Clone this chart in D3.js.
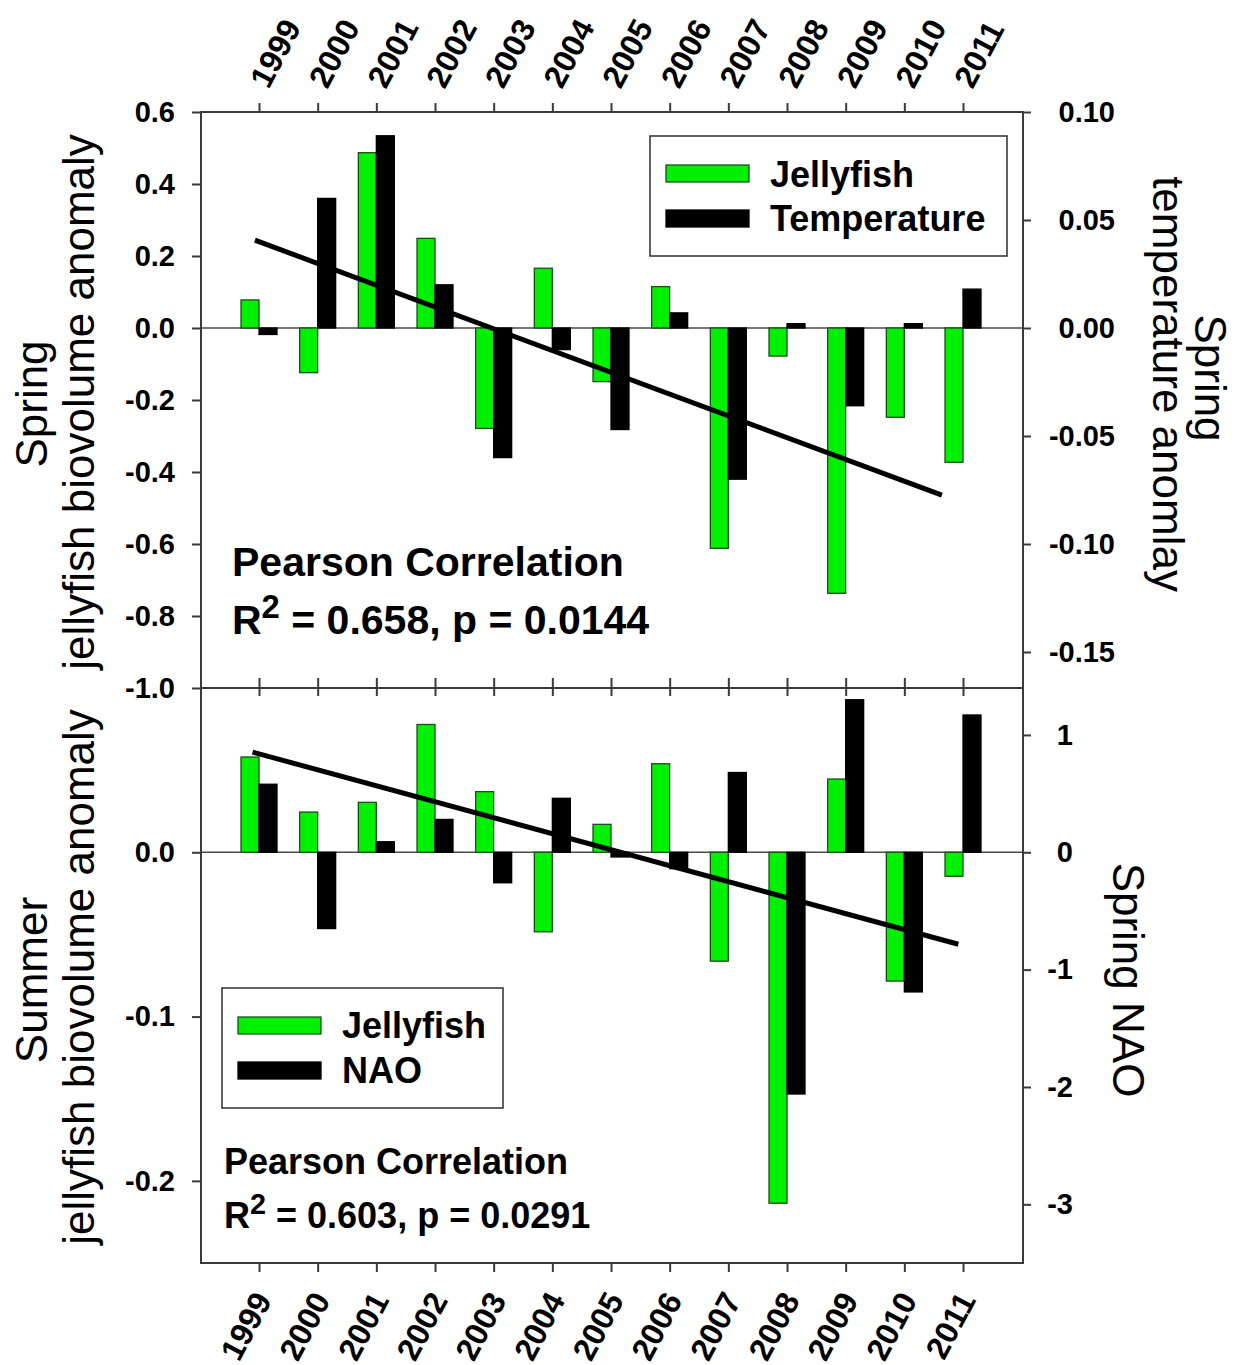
<!DOCTYPE html>
<html>
<head>
<meta charset="utf-8">
<script src="https://cdn.jsdelivr.net/npm/d3@7"></script>
<style>
  html, body { margin: 0; padding: 0; background: #fff; }
  svg { display: block; font-family: "Liberation Sans", Arial, Helvetica, sans-serif; }
</style>
</head>
<body>
<svg id="chart" width="1234" height="1365"></svg>
<script>
// ---------------- DATA ----------------
const years = [1999, 2000, 2001, 2002, 2003, 2004, 2005, 2006, 2007, 2008, 2009, 2010, 2011];

// Top panel: spring jellyfish biovolume anomaly (left axis) & spring temperature anomaly (right axis)
const springJelly = [0.078, -0.124, 0.487, 0.249, -0.279, 0.166, -0.149, 0.115, -0.612, -0.078, -0.737, -0.248, -0.373];
const springTemp  = [-0.003, 0.060, 0.089, 0.020, -0.060, -0.010, -0.047, 0.007, -0.070, 0.002, -0.036, 0.002, 0.018];

// Bottom panel: summer jellyfish biovolume anomaly (left axis) & spring NAO (right axis)
const summerJelly = [0.058, 0.0245, 0.0304, 0.0778, 0.0369, -0.0484, 0.017, 0.0539, -0.0663, -0.2136, 0.0446, -0.0784, -0.0146];
const springNAO   = [0.58, -0.65, 0.09, 0.28, -0.26, 0.46, -0.04, -0.14, 0.68, -2.06, 1.30, -1.19, 1.17];

// Regression lines (year, left-axis value) endpoints
const springTrendYears  = [1998.93, 2010.64];
const springTrendValues = [0.244, -0.464];
const summerTrendYears  = [1998.89, 2010.92];
const summerTrendValues = [0.061, -0.056];

// Tick labels
const topLeftTicks     = [0.6, 0.4, 0.2, 0.0, -0.2, -0.4, -0.6, -0.8, -1.0];
const topRightTicks    = [0.10, 0.05, 0.00, -0.05, -0.10, -0.15];
const bottomLeftTicks  = [0.0, -0.1, -0.2];
const bottomRightTicks = [1, 0, -1, -2, -3];

// Texts
const topLegend    = ["Jellyfish", "Temperature"];
const bottomLegend = ["Jellyfish", "NAO"];
const topStats     = ["Pearson Correlation", "0.658", "0.0144"];
const bottomStats  = ["Pearson Correlation", "0.603", "0.0291"];

// ---------------- LAYOUT ----------------
const L = 201, R = 1023;
const topY0 = 112, midY = 688, botY1 = 1263;
const GREEN = "#00f000", GREEN_STROKE = "#1d4d1d", FRAME = "#3a3a3a";
const barW = 18;

const svg = d3.select("#chart");

const xs = d3.scaleLinear().domain([1999, 2011]).range([259, 963]);

const yTopL = d3.scaleLinear().domain([-1.0, 0.6]).range([midY, topY0]);
const yTopR = d3.scaleLinear().domain([-1/6, 0.10]).range([midY, topY0]);
const yBotL = d3.scaleLinear().domain([-0.25, 0.1]).range([botY1, midY]);
const yBotR = d3.scaleLinear().domain([-3.5, 1.4]).range([botY1, midY]);

function styleAxis(g, fontSize) {
  g.select(".domain").remove();
  g.selectAll(".tick line").attr("stroke", FRAME).attr("stroke-width", 2);
  g.selectAll(".tick text")
    .attr("fill", "#000")
    .style("font-size", fontSize + "px")
    .style("font-weight", "bold")
    .style("font-family", '"Liberation Sans", Arial, sans-serif');
}

// ----- zero lines -----
svg.append("line").attr("x1", L).attr("x2", R).attr("y1", yTopL(0)).attr("y2", yTopL(0))
  .attr("stroke", "#4a4a4a").attr("stroke-width", 1.6);
svg.append("line").attr("x1", L).attr("x2", R).attr("y1", yBotL(0)).attr("y2", yBotL(0))
  .attr("stroke", "#4a4a4a").attr("stroke-width", 1.6);

// ----- bars -----
function drawBars(values, yScale, dx, fill, stroke) {
  svg.append("g").selectAll("rect").data(values).join("rect")
    .attr("x", (d, i) => xs(years[i]) + dx)
    .attr("width", barW)
    .attr("y", d => Math.min(yScale(d), yScale(0)))
    .attr("height", d => Math.abs(yScale(d) - yScale(0)))
    .attr("fill", fill)
    .attr("stroke", stroke)
    .attr("stroke-width", 1.3);
}
drawBars(springJelly, yTopL, -barW, GREEN, GREEN_STROKE);
drawBars(springTemp, yTopR, 0, "#000", "#000");
drawBars(summerJelly, yBotL, -barW, GREEN, GREEN_STROKE);
drawBars(springNAO, yBotR, 0, "#000", "#000");

// ----- trend lines -----
const lineGen = (ys) => d3.line().x(d => xs(d[0])).y(d => ys(d[1]));
svg.append("path")
  .datum(springTrendYears.map((y, i) => [y, springTrendValues[i]]))
  .attr("d", lineGen(yTopL)).attr("stroke", "#000").attr("stroke-width", 5).attr("fill", "none");
svg.append("path")
  .datum(summerTrendYears.map((y, i) => [y, summerTrendValues[i]]))
  .attr("d", lineGen(yBotL)).attr("stroke", "#000").attr("stroke-width", 5).attr("fill", "none");

// ----- frames -----
svg.append("rect").attr("x", L).attr("y", topY0).attr("width", R - L).attr("height", midY - topY0)
  .attr("fill", "none").attr("stroke", FRAME).attr("stroke-width", 2);
svg.append("rect").attr("x", L).attr("y", midY).attr("width", R - L).attr("height", botY1 - midY)
  .attr("fill", "none").attr("stroke", FRAME).attr("stroke-width", 2);

// ----- axes -----
const TICKFONT = 29;
const YEARFONT = 32;
// top left
svg.append("g").attr("transform", `translate(${L},0)`)
  .call(d3.axisLeft(yTopL).tickValues(topLeftTicks).tickFormat(d => d.toFixed(1)).tickSize(9).tickPadding(17))
  .call(g => styleAxis(g, TICKFONT));
// top right
svg.append("g").attr("transform", `translate(${R},0)`)
  .call(d3.axisRight(yTopR).tickValues(topRightTicks).tickFormat(d => d.toFixed(2)).tickSize(8))
  .call(g => styleAxis(g, TICKFONT))
  .call(g => g.selectAll(".tick text").attr("x", 92).attr("text-anchor", "end"));
// bottom left
svg.append("g").attr("transform", `translate(${L},0)`)
  .call(d3.axisLeft(yBotL).tickValues(bottomLeftTicks).tickFormat(d => d.toFixed(1)).tickSize(9).tickPadding(17))
  .call(g => styleAxis(g, TICKFONT));
// bottom right
svg.append("g").attr("transform", `translate(${R},0)`)
  .call(d3.axisRight(yBotR).tickValues(bottomRightTicks).tickFormat(d => String(d)).tickSize(8))
  .call(g => styleAxis(g, TICKFONT))
  .call(g => g.selectAll(".tick text").attr("x", 50).attr("text-anchor", "end"));

// top year axis
svg.append("g").attr("transform", `translate(0,${topY0})`)
  .call(d3.axisTop(xs).tickValues(years).tickFormat(d => String(d)).tickSize(9))
  .call(g => styleAxis(g, YEARFONT))
  .call(g => g.selectAll(".tick text")
    .attr("x", 0).attr("y", 0).attr("dy", 0)
    .attr("text-anchor", "start")
    .attr("transform", "translate(9,-22) rotate(-62)"));

// middle crossing ticks
svg.append("g").attr("transform", `translate(0,${midY})`)
  .call(d3.axisBottom(xs).tickValues(years).tickFormat("").tickSize(8))
  .call(g => styleAxis(g, TICKFONT))
  .call(g => g.selectAll(".tick line").attr("y1", -10).attr("y2", 8));

// bottom year axis
svg.append("g").attr("transform", `translate(0,${botY1})`)
  .call(d3.axisBottom(xs).tickValues(years).tickFormat(d => String(d)).tickSize(9))
  .call(g => styleAxis(g, YEARFONT))
  .call(g => g.selectAll(".tick text")
    .attr("x", 0).attr("y", 0).attr("dy", 0)
    .attr("text-anchor", "end")
    .attr("transform", "translate(13,37) rotate(-62)"));

// ----- axis titles -----
function vText(x, y, rot, txt) {
  svg.append("text")
    .attr("transform", `translate(${x},${y}) rotate(${rot})`)
    .attr("text-anchor", "middle")
    .style("font-size", "44px")
    .attr("fill", "#000")
    .text(txt);
}
vText(47, 404, -90, "Spring");
vText(94, 402, -90, "jellyfish biovolume anomaly");
vText(47, 980, -90, "Summer");
vText(94, 977, -90, "jellyfish biovolume anomaly");
vText(1195, 378, 90, "Spring");
vText(1153, 384, 90, "temperature anomlay");
vText(1113, 980, 90, "Spring NAO");

// ----- legends -----
function legend(box, sw, textX, baselines, labels, fontSize) {
  svg.append("rect").attr("x", box[0]).attr("y", box[1]).attr("width", box[2]).attr("height", box[3])
    .attr("fill", "#fff").attr("stroke", FRAME).attr("stroke-width", 1.6);
  const fills = [GREEN, "#000"], strokes = [GREEN_STROKE, "#000"];
  labels.forEach((lab, i) => {
    svg.append("rect").attr("x", sw[0]).attr("y", sw[1 + i]).attr("width", sw[3]).attr("height", sw[4])
      .attr("fill", fills[i]).attr("stroke", strokes[i]).attr("stroke-width", 1.3);
    svg.append("text").attr("x", textX).attr("y", baselines[i])
      .style("font-size", fontSize + "px").style("font-weight", "bold").attr("fill", "#000").text(lab);
  });
}
legend([650, 136, 357, 120], [666, 165, 210, 83, 17], 770, [187, 231], topLegend, 36);
legend([222, 988, 281, 120], [238, 1017, 1062, 83, 17], 342, [1038, 1083], bottomLegend, 36);

// ----- statistics text -----
function stats(x, y1, y2, s, fs) {
  svg.append("text").attr("x", x).attr("y", y1)
    .style("font-size", fs + "px").style("font-weight", "bold").attr("fill", "#000").text(s[0]);
  const t = svg.append("text").attr("x", x).attr("y", y2)
    .style("font-size", fs + "px").style("font-weight", "bold").attr("fill", "#000");
  t.append("tspan").text("R");
  t.append("tspan").attr("dy", -fs * 0.4).style("font-size", (fs * 0.8) + "px").text("2");
  t.append("tspan").attr("dy", fs * 0.4).text(` = ${s[1]}, p = ${s[2]}`);
}
stats(232, 576, 634, topStats, 41);
stats(224, 1174, 1228, bottomStats, 36);
</script>
</body>
</html>
